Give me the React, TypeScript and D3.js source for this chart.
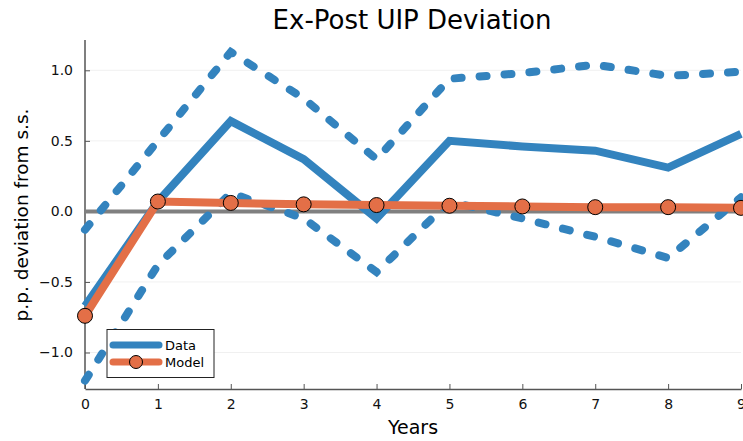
import { useEffect, useRef } from "react"
import * as d3 from "d3"

const years = [0, 1, 2, 3, 4, 5, 6, 7, 8, 9]
const dataMean = [-0.67, 0.07, 0.64, 0.37, -0.05, 0.5, 0.46, 0.43, 0.31, 0.55]
const dataUpper = [-0.13, 0.5, 1.13, 0.8, 0.37, 0.94, 0.98, 1.04, 0.96, 0.99]
const dataLower = [-1.2, -0.38, 0.13, -0.05, -0.43, 0.07, -0.05, -0.18, -0.33, 0.1]
const model = [-0.74, 0.07, 0.06, 0.05, 0.045, 0.04, 0.035, 0.03, 0.03, 0.025]
const yTicks = [-1.0, -0.5, 0.0, 0.5, 1.0]

const App = () => {
  const chartRef = useRef<SVGSVGElement>(null)

  useEffect(() => {
    const W = 743, H = 441
    const left = 85, right = 741, top = 40, bottom = 389
    const blue = "#3383be"
    const orange = "#e36f47"
    const font = "DejaVu Sans, sans-serif"

    const svg = d3.select(chartRef.current)
    svg.selectAll("*").remove()
    svg.attr("width", W).attr("height", H)

    const x = d3.scaleLinear().domain([0, 9]).range([left, right])
    const y = d3.scaleLinear().domain([-1.0, 1.0]).range([352.5, 70.3])

    // grid
    svg.append("g").selectAll("line").data(yTicks).join("line")
      .attr("x1", left).attr("x2", right)
      .attr("y1", d => y(d)).attr("y2", d => y(d))
      .attr("stroke", "#000").attr("stroke-opacity", 0.06).attr("stroke-width", 1)

    // axes
    const axX = svg.append("g").attr("transform", `translate(0,${bottom})`)
      .call(d3.axisBottom(x).tickValues(years).tickSizeInner(-5).tickSizeOuter(0).tickPadding(10).tickFormat(d3.format("d")))
    const axY = svg.append("g").attr("transform", `translate(${left},0)`)
      .call(d3.axisLeft(y).tickValues(yTicks).tickSizeInner(-5).tickSizeOuter(0).tickPadding(12)
        .tickFormat(d => d3.format(".1f")(d as number).replace("-", "\u2212")))
    for (const ax of [axX, axY]) {
      ax.select(".domain").attr("stroke", "#555").attr("stroke-width", 1.5)
      ax.selectAll(".tick line").attr("stroke", "#555").attr("stroke-width", 1)
      ax.selectAll(".tick text").attr("font-family", font).attr("font-size", 14).attr("fill", "#111")
    }
    axY.select(".domain").attr("d", `M0,${top}V${bottom}`)

    // zero line
    svg.append("line")
      .attr("x1", left).attr("x2", right).attr("y1", y(0)).attr("y2", y(0))
      .attr("stroke", "#808080").attr("stroke-width", 4)

    const line = d3.line<number>().x((_, i) => x(years[i])).y(d => y(d))

    for (const band of [dataUpper, dataLower]) {
      svg.append("path").datum(band)
        .attr("fill", "none").attr("stroke", blue).attr("stroke-width", 8)
        .attr("stroke-linecap", "round").attr("stroke-dasharray", "7 18")
        .attr("d", line)
    }
    svg.append("path").datum(dataMean)
      .attr("fill", "none").attr("stroke", blue).attr("stroke-width", 8)
      .attr("d", line)

    svg.append("path").datum(model)
      .attr("fill", "none").attr("stroke", orange).attr("stroke-width", 8)
      .attr("d", line)
    svg.append("g").selectAll("circle").data(model).join("circle")
      .attr("cx", (_, i) => x(years[i])).attr("cy", d => y(d)).attr("r", 7.5)
      .attr("fill", orange).attr("stroke", "#000").attr("stroke-width", 1)

    // legend
    const lg = svg.append("g")
    lg.append("rect").attr("x", 107).attr("y", 329.5).attr("width", 107).attr("height", 48)
      .attr("fill", "#fff").attr("stroke", "#222").attr("stroke-width", 1)
    lg.append("line").attr("x1", 113).attr("x2", 159).attr("y1", 345).attr("y2", 345)
      .attr("stroke", blue).attr("stroke-width", 7).attr("stroke-linecap", "round")
    lg.append("line").attr("x1", 113).attr("x2", 159).attr("y1", 362).attr("y2", 362)
      .attr("stroke", orange).attr("stroke-width", 7).attr("stroke-linecap", "round")
    lg.append("circle").attr("cx", 136).attr("cy", 362).attr("r", 6.5)
      .attr("fill", orange).attr("stroke", "#000").attr("stroke-width", 1)
    lg.append("text").attr("x", 165).attr("y", 350).text("Data")
      .attr("font-family", font).attr("font-size", 13)
    lg.append("text").attr("x", 165).attr("y", 367).text("Model")
      .attr("font-family", font).attr("font-size", 13)

    // titles
    svg.append("text").attr("x", 412).attr("y", 29).attr("text-anchor", "middle")
      .attr("font-family", font).attr("font-size", 26).text("Ex-Post UIP Deviation")
    svg.append("text").attr("x", 413).attr("y", 434).attr("text-anchor", "middle")
      .attr("font-family", font).attr("font-size", 19).text("Years")
    svg.append("text").attr("transform", "translate(28,215) rotate(-90)").attr("text-anchor", "middle")
      .attr("font-family", font).attr("font-size", 18.5).text("p.p. deviation from s.s.")
  }, [])

  return <svg ref={chartRef} style={{ position: "absolute", left: 0, top: 0 }}></svg>
}

export default App
